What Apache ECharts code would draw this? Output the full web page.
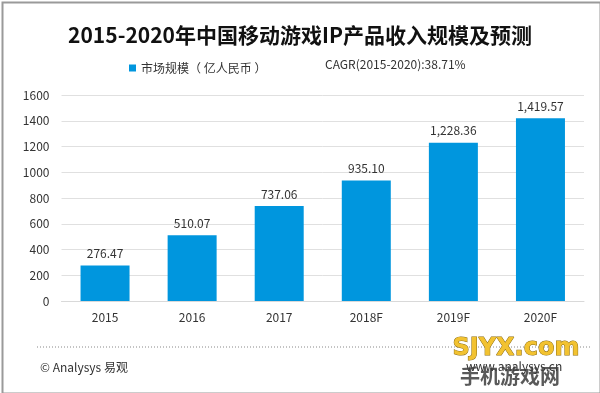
<!DOCTYPE html>
<html><head><meta charset="utf-8">
<script src="https://cdn.jsdelivr.net/npm/echarts@6/dist/echarts.min.js"></script>
<style>
html,body{margin:0;padding:0;background:#fff;}
#c{width:600px;height:393px;}
</style></head>
<body><div id="c"></div>
<script>
const categories = ['2015','2016','2017','2018F','2019F','2020F'];
const values = [276.47, 510.07, 737.06, 935.10, 1228.36, 1419.57];
const yTicks = [0, 200, 400, 600, 800, 1000, 1200, 1400, 1600];
const seriesName = '市场规模（ 亿人民币 ）';
const titleText = '2015-2020年中国移动游戏IP产品收入规模及预测';
const cagrText = 'CAGR(2015-2020):38.71%';
const sourceText = '© Analysys 易观';
const siteText = 'www.analysys.cn';

const chart = echarts.init(document.getElementById('c'));
const fam = '"Noto Sans CJK SC", "Noto Sans", sans-serif';
chart.setOption({
  backgroundColor: '#fff',
  textStyle: {fontFamily: fam},
  title: {text: titleText, left: 'center', top: 20,
    textStyle: {fontSize: 21, fontWeight: 'bold', color: '#111', fontFamily: fam}},
  legend: {data: [seriesName], left: 124, top: 57, icon: 'rect', itemWidth: 7, itemHeight: 7, itemGap: 4,
    textStyle: {fontSize: 12, color: '#333'}},
  grid: {left: 61.5, right: 16, top: 95, bottom: 92},
  xAxis: {type: 'category', data: categories,
    axisLine: {show: true, lineStyle: {color: '#d9d9d9'}}, axisTick: {show: false},
    axisLabel: {fontSize: 12, color: '#333', margin: 10}},
  yAxis: {type: 'value', min: yTicks[0], max: yTicks[yTicks.length - 1], interval: yTicks[1] - yTicks[0],
    axisLine: {show: false}, axisTick: {show: false},
    axisLabel: {fontSize: 12, color: '#333', margin: 12, formatter: v => String(v)},
    splitLine: {lineStyle: {color: '#e0e0e0'}}},
  series: [{name: seriesName, type: 'bar', data: values, barWidth: 49,
    itemStyle: {color: '#0096DE'},
    label: {show: true, position: 'top', distance: 6, fontSize: 12, color: '#333',
      formatter: p => p.value.toLocaleString('en-US', {minimumFractionDigits: 2, maximumFractionDigits: 2})}}],
  graphic: [
    {type: 'rect', left: 0, top: 0, shape: {width: 598, height: 391}, style: {fill: 'none', stroke: '#9a9a9a', lineWidth: 2}, silent: true},
    {type: 'text', left: 325, top: 58, style: {text: cagrText, fontSize: 12, fill: '#333', fontFamily: fam}},
    {type: 'line', shape: {x1: 37, y1: 347, x2: 590, y2: 347}, style: {stroke: '#888', lineWidth: 1, lineDash: [1, 2]}},
    {type: 'text', left: 40, top: 361, style: {text: sourceText, fontSize: 12, fill: '#333', fontFamily: fam}},
    {type: 'text', left: 466, top: 360, style: {text: siteText, fontSize: 12, fill: '#333', fontFamily: fam}},
    {type: 'text', left: 452, top: 336, style: {text: 'SJYX.com', fontSize: 24, fontWeight: 'bold', fill: '#f2c230', stroke: '#8a6a10', lineWidth: 1, fontFamily: '"DejaVu Sans", sans-serif'}},
    {type: 'text', left: 460, top: 366, style: {text: '手机游戏网', fontSize: 20, fontWeight: 'bold', fill: 'rgba(60,60,60,0.85)', fontFamily: fam}}
  ]
});
</script></body></html>
